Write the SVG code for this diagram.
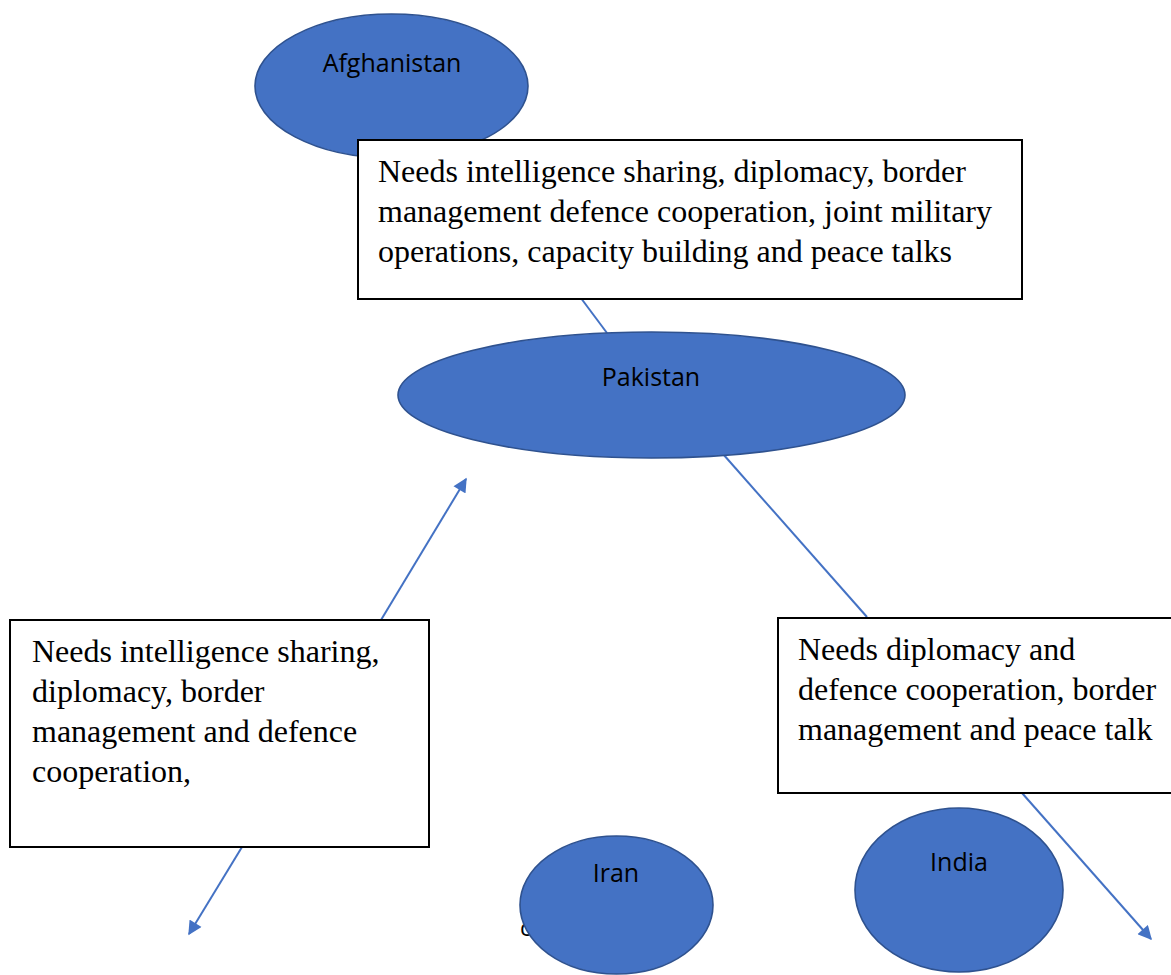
<svg xmlns="http://www.w3.org/2000/svg" width="1171" height="975" viewBox="0 0 1171 975">
<style>
.node{fill:#4472C4;stroke:#2F528F;stroke-width:1.6}
.lbl{font-family:"Open Sans","Noto Sans",sans-serif;font-size:25px;fill:#000;text-anchor:middle}
.box{fill:#fff;stroke:#000;stroke-width:2}
.bt{font-family:"Liberation Serif","Times New Roman",serif;font-size:32px;fill:#000}
.con{stroke:#4472C4;stroke-width:2;fill:none}
</style>
<defs>
<marker id="ah" viewBox="0 0 10 10" refX="9" refY="5" markerWidth="7.5" markerHeight="7" orient="auto" markerUnits="strokeWidth">
<path d="M0,0 L10,5 L0,10 z" fill="#4472C4"/>
</marker>
</defs>
<rect width="1171" height="975" fill="#fff"/>
<g id="connectors">
<line class="con" x1="560" y1="270" x2="607" y2="333"/>
<line class="con" x1="381" y1="620" x2="466" y2="479" marker-end="url(#ah)"/>
<line class="con" x1="242" y1="847" x2="189" y2="934" marker-end="url(#ah)"/>
<line class="con" x1="723" y1="454" x2="867" y2="617"/>
<line class="con" x1="1022" y1="793" x2="1151" y2="939" marker-end="url(#ah)"/>
</g>
<g id="afghanistan">
<ellipse class="node" cx="391.5" cy="86" rx="136.5" ry="72"/>
<text class="lbl" x="392" y="72">Afghanistan</text>
</g>
<g id="box-top">
<rect class="box" x="358" y="140" width="664" height="159"/>
<text class="bt" x="378" y="182">Needs intelligence sharing, diplomacy, border</text>
<text class="bt" x="378" y="222">management defence cooperation, joint military</text>
<text class="bt" x="378" y="262">operations, capacity building and peace talks</text>
</g>
<g id="pakistan">
<ellipse class="node" cx="651.5" cy="395" rx="253.5" ry="63"/>
<text class="lbl" x="651" y="386">Pakistan</text>
</g>
<g id="box-left">
<rect class="box" x="10" y="620" width="419" height="227"/>
<text class="bt" x="32" y="662">Needs intelligence sharing,</text>
<text class="bt" x="32" y="702">diplomacy, border</text>
<text class="bt" x="32" y="742">management and defence</text>
<text class="bt" x="32" y="782">cooperation,</text>
</g>
<g id="box-right">
<rect class="box" x="778" y="618" width="400" height="175"/>
<text class="bt" x="798" y="660">Needs diplomacy and</text>
<text class="bt" x="798" y="700">defence cooperation, border</text>
<text class="bt" x="798" y="740">management and peace talk</text>
</g>
<g id="iran">
<text x="520" y="936" style="font-family:'Open Sans',sans-serif;font-size:23px;fill:#000">c</text>
<ellipse class="node" cx="616.5" cy="905" rx="96.5" ry="69"/>
<text class="lbl" x="616" y="882">Iran</text>
</g>
<g id="india">
<ellipse class="node" cx="959" cy="890" rx="104" ry="82"/>
<text class="lbl" x="959" y="871">India</text>
</g>
</svg>
